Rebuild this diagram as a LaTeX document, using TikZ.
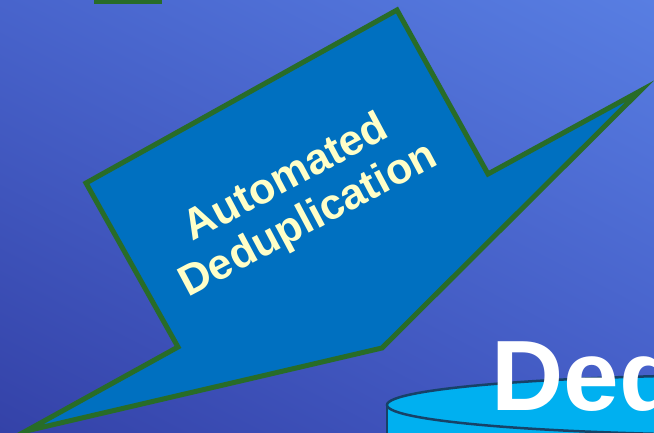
\documentclass[tikz,border=0pt]{standalone}
\usepackage{fontspec}
\setmainfont{Liberation Sans}
\usetikzlibrary{shadings}
\definecolor{bgUL}{RGB}{72,100,204}
\definecolor{bgUR}{RGB}{88,126,226}
\definecolor{bgLL}{RGB}{52,66,168}
\definecolor{bgLR}{RGB}{68,92,198}
\definecolor{arrowfill}{RGB}{0,112,192}
\definecolor{arrowedge}{RGB}{40,108,40}
\definecolor{labeltext}{RGB}{255,255,200}
\definecolor{cylfill}{RGB}{0,176,240}
\definecolor{cyledge}{RGB}{22,66,104}
\begin{document}
\begin{tikzpicture}[x=1pt,y=-1pt,
  bigarrow/.style={fill=arrowfill, draw=arrowedge, line width=5pt, line join=miter},
  tabbox/.style={fill=arrowedge, draw=arrowedge, line width=2pt},
  lbl/.style={text=labeltext, font=\fontsize{43}{49}\selectfont\bfseries, inner sep=0pt, rotate=28, anchor=base},
  cyl/.style={fill=cylfill, draw=cyledge, line width=2.5pt},
  bigtext/.style={text=white, font=\fontsize{100}{100}\selectfont\bfseries, inner sep=0pt, anchor=base west}]
\useasboundingbox (0,0) rectangle (654,432);
\clip (0,0) rectangle (654,432);
\shade[upper left=bgUL, upper right=bgUR, lower left=bgLL, lower right=bgLR] (0,0) rectangle (654,432);
% small tab at top
\draw[tabbox] (95,-10) rectangle (161,2.5);
% big arrow
\draw[bigarrow] (397,10) -- (488,174) -- (640,91) -- (382,348) -- (26,431) -- (178,347) -- (86,183) -- cycle;
\node[lbl] (t1) at (292,189) {Automated};
\node[lbl] (t2) at (314,231) {Deduplication};
% cylinder
\fill[cylfill] (387,405) rectangle (1200,520);
\draw[cyledge, line width=2.5pt] (387,405) -- (387,440);
\draw[cyl] (760,405) ellipse [x radius=373pt, y radius=30pt];
\node[bigtext] (ded) at (491,410) {Ded};
\end{tikzpicture}
\end{document}
